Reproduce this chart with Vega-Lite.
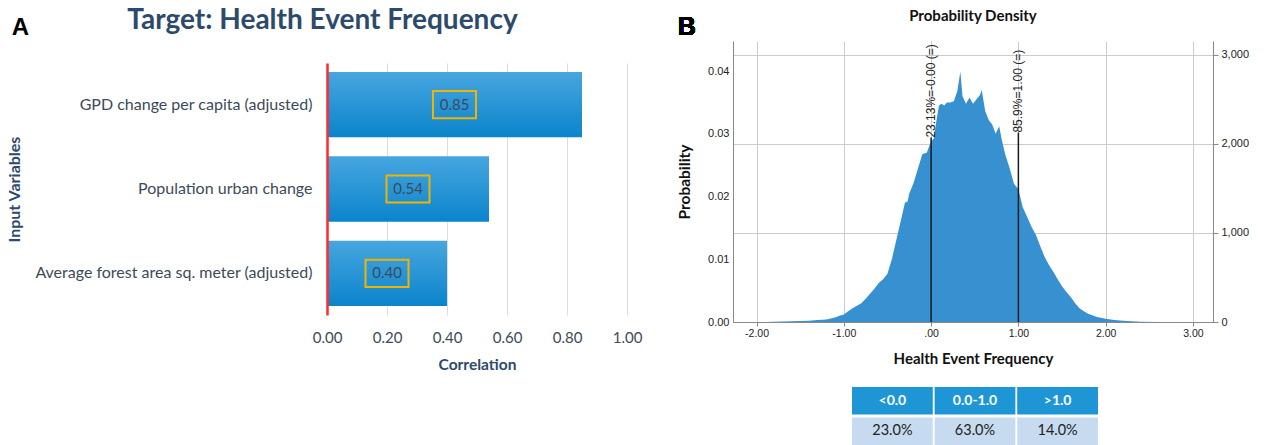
{
  "$schema": "https://vega.github.io/schema/vega-lite/v6.json",
  "background": "white",
  "padding": {"left": 6, "top": 6, "right": 0, "bottom": 0},
  "config": {"view": {"stroke": null}},
  "spacing": 35,
  "hconcat": [
    {
      "spacing": 10,
      "vconcat": [
        {
          "width": 300,
          "height": 12,
          "data": {"values": [{"head": "Target: Health Event Frequency", "letter": "A"}]},
          "layer": [
            {
              "mark": {"type": "text", "font": "Liberation Sans", "fontSize": 24, "fontWeight": "bold", "color": "#000000", "baseline": "middle", "align": "center"},
              "encoding": {
                "text": {"field": "letter"},
                "x": {"datum": -1.0217, "type": "quantitative", "scale": {"domain": [0, 1]}, "axis": null},
                "y": {"datum": 2.125, "type": "quantitative", "scale": {"domain": [0, 1]}, "axis": null}
              }
            },
            {
              "mark": {"type": "text", "font": "Lato", "fontSize": 28, "fontWeight": "bold", "color": "#2c4a6b", "baseline": "middle", "align": "center"},
              "encoding": {
                "text": {"field": "head"},
                "x": {"datum": -0.015, "type": "quantitative", "scale": {"domain": [0, 1]}, "axis": null},
                "y": {"datum": 2.667, "type": "quantitative", "scale": {"domain": [0, 1]}, "axis": null}
              }
            }
          ]
        },
        {
          "width": 300,
          "height": 252,
          "data": {"values": [
            {"var": "GPD change per capita (adjusted)", "value": 0.85, "label": "0.85"},
            {"var": "Population urban change", "value": 0.54, "label": "0.54"},
            {"var": "Average forest area sq. meter (adjusted)", "value": 0.40, "label": "0.40"}
          ]},
          "resolve": {"scale": {"x": "independent"}},
          "layer": [
            {
              "mark": {"type": "bar", "fill": {"gradient": "linear", "x1": 0, "y1": 0, "x2": 0, "y2": 1, "stops": [{"offset": 0, "color": "#47a6df"}, {"offset": 1, "color": "#0b84cc"}]}},
              "encoding": {
                "y": {"field": "var", "type": "nominal", "sort": null, "scale": {"paddingInner": 0.226, "paddingOuter": 0.107}, "title": "Input Variables",
                  "axis": {"zindex": 2, "domainColor": "#ff2a2a", "domainWidth": 2.5, "ticks": false, "labelPadding": 15, "labelFont": "Lato", "labelFontSize": 16, "labelColor": "#3c4a5a", "labelLimit": 400, "minExtent": 300, "maxExtent": 300, "titleFont": "Lato", "titleFontSize": 16, "titleFontWeight": "bold", "titleColor": "#2c4a6b", "titlePadding": 5}},
                "x": {"field": "value", "type": "quantitative", "scale": {"domain": [0, 1]}, "title": "Correlation",
                  "axis": {"values": [0, 0.2, 0.4, 0.6, 0.8, 1], "format": ".2f", "labelFlush": false, "domain": false, "ticks": false, "grid": true, "gridColor": "#d9dee5", "labelPadding": 15, "labelFont": "Lato", "labelFontSize": 15, "labelColor": "#3c4a5a", "titleFont": "Lato", "titleFontSize": 15.5, "titleFontWeight": "bold", "titleColor": "#2c4a6b", "titlePadding": 12}}
              }
            },
            {
              "mark": {"type": "point", "shape": "M -1 -0.63 L 1 -0.63 L 1 0.63 L -1 0.63 Z", "filled": false, "color": "#f0b400", "strokeWidth": 2, "size": 1849, "opacity": 1},
              "encoding": {
                "y": {"field": "var", "type": "nominal", "sort": null},
                "x": {"field": "value", "type": "quantitative", "scale": {"domain": [0, 2]}, "axis": null}
              }
            },
            {
              "mark": {"type": "text", "font": "Lato", "fontSize": 15, "color": "#3c4a5a"},
              "encoding": {
                "y": {"field": "var", "type": "nominal", "sort": null},
                "x": {"field": "value", "type": "quantitative", "scale": {"domain": [0, 2]}, "axis": null},
                "text": {"field": "label"}
              }
            }
          ]
        }
      ]
    },
    {
      "spacing": 20,
      "vconcat": [
        {
          "width": 480,
          "height": 281,
          "title": {"text": "Probability Density", "font": "Lato", "fontSize": 15, "fontWeight": "bold", "color": "#111111", "offset": 0, "dy": 9},
          "data": {"values": [
            {"x": -2.2, "p": 0}, {"x": -1.9, "p": 0.00002}, {"x": -1.6, "p": 0.0001}, {"x": -1.4, "p": 0.0002},
            {"x": -1.3, "p": 0.0003}, {"x": -1.2, "p": 0.0004}, {"x": -1.1, "p": 0.0007}, {"x": -1.05, "p": 0.001},
            {"x": -1.0, "p": 0.0012}, {"x": -0.95, "p": 0.0017}, {"x": -0.9, "p": 0.0022}, {"x": -0.85, "p": 0.0026},
            {"x": -0.8, "p": 0.003}, {"x": -0.75, "p": 0.0037}, {"x": -0.7, "p": 0.0045}, {"x": -0.65, "p": 0.0053},
            {"x": -0.6, "p": 0.0062}, {"x": -0.55, "p": 0.0068}, {"x": -0.5, "p": 0.0077}, {"x": -0.45, "p": 0.01},
            {"x": -0.4, "p": 0.013}, {"x": -0.35, "p": 0.016}, {"x": -0.3, "p": 0.019}, {"x": -0.27, "p": 0.0192},
            {"x": -0.25, "p": 0.0205}, {"x": -0.2, "p": 0.0222}, {"x": -0.15, "p": 0.0245}, {"x": -0.1, "p": 0.0268},
            {"x": -0.05, "p": 0.027}, {"x": 0.0, "p": 0.0288}, {"x": 0.03, "p": 0.0292}, {"x": 0.06, "p": 0.032},
            {"x": 0.09, "p": 0.0345}, {"x": 0.12, "p": 0.0348}, {"x": 0.15, "p": 0.0345}, {"x": 0.18, "p": 0.035},
            {"x": 0.22, "p": 0.035}, {"x": 0.26, "p": 0.0352}, {"x": 0.3, "p": 0.0368}, {"x": 0.335, "p": 0.0399},
            {"x": 0.36, "p": 0.036}, {"x": 0.4, "p": 0.0348}, {"x": 0.44, "p": 0.0358}, {"x": 0.48, "p": 0.0348},
            {"x": 0.52, "p": 0.0355}, {"x": 0.56, "p": 0.0362}, {"x": 0.58, "p": 0.037}, {"x": 0.62, "p": 0.0336},
            {"x": 0.66, "p": 0.0322}, {"x": 0.7, "p": 0.0315}, {"x": 0.74, "p": 0.03}, {"x": 0.78, "p": 0.0312},
            {"x": 0.81, "p": 0.029}, {"x": 0.85, "p": 0.0267}, {"x": 0.9, "p": 0.0245}, {"x": 0.95, "p": 0.022},
            {"x": 1.0, "p": 0.0212}, {"x": 1.05, "p": 0.0183}, {"x": 1.1, "p": 0.0168}, {"x": 1.15, "p": 0.0152},
            {"x": 1.2, "p": 0.0139}, {"x": 1.25, "p": 0.0121}, {"x": 1.3, "p": 0.0104}, {"x": 1.35, "p": 0.0091},
            {"x": 1.4, "p": 0.008}, {"x": 1.45, "p": 0.0068}, {"x": 1.5, "p": 0.0057}, {"x": 1.55, "p": 0.0048},
            {"x": 1.6, "p": 0.004}, {"x": 1.65, "p": 0.003}, {"x": 1.7, "p": 0.0022}, {"x": 1.75, "p": 0.0017},
            {"x": 1.8, "p": 0.0013}, {"x": 1.9, "p": 0.0008}, {"x": 2.0, "p": 0.0005}, {"x": 2.1, "p": 0.0003},
            {"x": 2.2, "p": 0.0002}, {"x": 2.4, "p": 0.00005}, {"x": 2.6, "p": 0}
          ]},
          "resolve": {"scale": {"y": "independent"}},
          "layer": [
            {
              "mark": {"type": "area", "color": "#3791d1", "interpolate": "linear"},
              "encoding": {
                "x": {"field": "x", "type": "quantitative", "scale": {"domain": [-2.27, 3.23], "nice": false, "zero": false}, "title": "Health Event Frequency",
                  "axis": {"values": [-2, -1, 0, 1, 2, 3], "labelFlush": false, "labelExpr": "datum.value == 0 ? '.00' : (datum.value < 0 ? '-' + format(-datum.value, '.2f') : format(datum.value, '.2f'))", "grid": true, "gridColor": "#cccccc", "domainColor": "#888888", "tickColor": "#888888", "tickSize": 4, "labelPadding": 2, "labelFont": "Liberation Sans", "labelFontSize": 10.5, "labelColor": "#222222", "titleFont": "Lato", "titleFontSize": 15, "titleFontWeight": "bold", "titleColor": "#111111", "titlePadding": 13}},
                "y": {"field": "p", "type": "quantitative", "scale": {"domain": [0, 0.0448], "nice": false}, "title": "Probability",
                  "axis": {"values": [0, 0.01, 0.02, 0.03, 0.04], "format": ".2f", "grid": false, "ticks": false, "domainColor": "#888888", "labelPadding": 4, "labelFont": "Liberation Sans", "labelFontSize": 11, "labelColor": "#222222", "titleFont": "Lato", "titleFontSize": 15.5, "titleFontWeight": "bold", "titleColor": "#111111", "titlePadding": 15}}
              }
            },
            {
              "data": {"values": [{"x": 0, "top": 0.0294, "label": "23.13%=-0.00 (=)"}, {"x": 1, "top": 0.0302, "label": "85.9%=1.00 (=)"}]},
              "mark": {"type": "rule", "color": "#1a1a1a", "strokeWidth": 1.5},
              "encoding": {
                "x": {"field": "x", "type": "quantitative"},
                "y": {"field": "top", "type": "quantitative", "scale": {"domain": [0, 0.0448], "nice": false}, "axis": null},
                "y2": {"datum": 0}
              }
            },
            {
              "data": {"values": [{"x": 0, "top": 0.0294, "label": "23.13%=-0.00 (=)"}, {"x": 1, "top": 0.0302, "label": "85.9%=1.00 (=)"}]},
              "mark": {"type": "text", "angle": 270, "align": "left", "baseline": "middle", "font": "Liberation Sans", "fontSize": 12, "color": "#222222"},
              "encoding": {
                "x": {"field": "x", "type": "quantitative"},
                "y": {"field": "top", "type": "quantitative", "scale": {"domain": [0, 0.0448], "nice": false}, "axis": null},
                "text": {"field": "label"}
              }
            },
            {
              "mark": {"type": "text", "text": "B", "font": "Liberation Sans", "fontSize": 25, "fontWeight": "bold", "color": "#000000", "baseline": "middle"},
              "encoding": {
                "x": {"datum": -2.8, "type": "quantitative"},
                "y": {"datum": 0.04711, "type": "quantitative", "scale": {"domain": [0, 0.0448], "nice": false}, "axis": null}
              }
            },
            {
              "mark": {"type": "point", "opacity": 0},
              "encoding": {
                "y": {"datum": 0, "type": "quantitative", "scale": {"domain": [0, 3157], "nice": false}, "title": "Frequency",
                  "axis": {"orient": "right", "values": [0, 1000, 2000, 3000], "format": ",d", "grid": true, "gridColor": "#cccccc", "tickSize": 5, "tickColor": "#888888", "domainColor": "#888888", "labelPadding": 3, "labelFont": "Liberation Sans", "labelFontSize": 11, "labelColor": "#222222", "titleFont": "Lato", "titleFontSize": 15.5, "titleFontWeight": "bold", "titleColor": "#111111", "titlePadding": 11}}
              }
            }
          ]
        },
        {
          "width": 480,
          "height": 58,
          "data": {"values": [
            {"col": "<0.0", "row": "h", "label": "<0.0"},
            {"col": "0.0-1.0", "row": "h", "label": "0.0-1.0"},
            {"col": ">1.0", "row": "h", "label": ">1.0"},
            {"col": "<0.0", "row": "v", "label": "23.0%"},
            {"col": "0.0-1.0", "row": "v", "label": "63.0%"},
            {"col": ">1.0", "row": "v", "label": "14.0%"}
          ]},
          "encoding": {
            "x": {"field": "col", "type": "nominal", "sort": null, "scale": {"range": [119, 365], "paddingInner": 0.022, "paddingOuter": 0}, "axis": null},
            "y": {"field": "row", "type": "nominal", "sort": null, "scale": {"paddingInner": 0.098, "paddingOuter": 0}, "axis": null}
          },
          "layer": [
            {
              "mark": {"type": "rect"},
              "encoding": {"color": {"field": "row", "type": "nominal", "scale": {"domain": ["h", "v"], "range": ["#1e96d6", "#c6dbef"]}, "legend": null}}
            },
            {
              "transform": [{"filter": "datum.row == 'h'"}],
              "mark": {"type": "text", "font": "Lato", "fontSize": 14, "fontWeight": "bold", "color": "#ffffff"},
              "encoding": {"text": {"field": "label"}}
            },
            {
              "transform": [{"filter": "datum.row == 'v'"}],
              "mark": {"type": "text", "font": "Lato", "fontSize": 14.5, "color": "#222222"},
              "encoding": {"text": {"field": "label"}}
            }
          ]
        }
      ]
    }
  ]
}
